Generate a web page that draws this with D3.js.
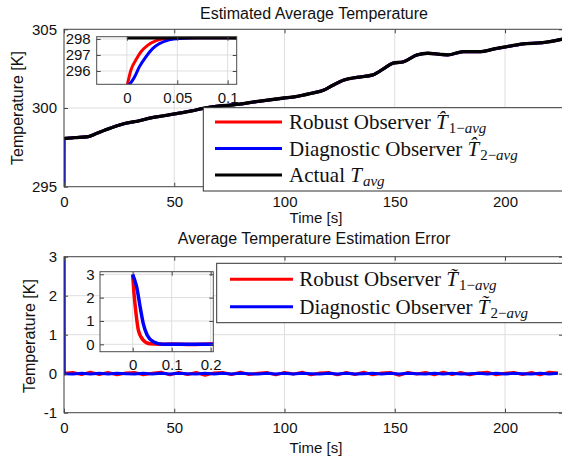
<!DOCTYPE html>
<html>
<head>
<meta charset="utf-8">
<script src="https://cdn.jsdelivr.net/npm/d3@7"></script>
<style>
  body { margin: 0; background: #fff; }
  svg { display: block; font-family: Arial, "Liberation Sans", sans-serif; }
</style>
</head>
<body>
<div id="chart"></div>
<script>
// ---- data ----
var timeTicks = [0, 50, 100, 150, 200];

// actual average temperature (black)
var actualTime = [0, 5, 11, 15, 21, 28, 34, 39, 45, 50, 58, 63, 70, 77, 87, 99, 105, 112, 118, 122, 127, 133, 140, 145, 149, 154, 160, 165, 170, 174, 181, 189, 195, 201, 208, 217, 226.3];
var actualTemp = [298.07, 298.12, 298.18, 298.4, 298.72, 299.03, 299.18, 299.36, 299.5, 299.62, 299.82, 299.97, 300.12, 300.2, 300.4, 300.62, 300.72, 300.93, 301.15, 301.45, 301.78, 301.95, 302.1, 302.5, 302.84, 302.94, 303.37, 303.48, 303.42, 303.37, 303.58, 303.58, 303.75, 303.9, 304.07, 304.15, 304.38];

// start-up of the estimates (inset of the first plot)
var robustStartTime = [0, 0.004, 0.009, 0.014, 0.0205, 0.029, 0.039, 0.06, 0.109];
var robustStartTemp = [295.0, 296.06, 296.7, 297.2, 297.6, 297.9, 298.03, 298.07, 298.07];
var diagStartTime = [0, 0.003, 0.0073, 0.0122, 0.019, 0.0255, 0.032, 0.042, 0.052, 0.07, 0.109];
var diagStartTemp = [295.0, 295.2, 295.6, 296.24, 296.9, 297.4, 297.7, 297.94, 298.03, 298.07, 298.07];

// estimation error start-up (inset of the second plot)
var robustErrTime = [0, 0.0033, 0.0085, 0.0145, 0.027, 0.044, 0.07, 0.1, 0.15, 0.2];
var robustErrVal = [2.97, 2.19, 1.33, 0.61, 0.18, 0.02, 0.0, 0.01, -0.01, 0.01];
var diagErrTime = [0, 0.005, 0.01, 0.019, 0.027, 0.037, 0.053, 0.077, 0.12, 0.2];
var diagErrVal = [3.0, 2.75, 2.47, 1.61, 0.9, 0.4, 0.11, 0.0, 0.0, 0.0];

// estimation error after start-up (small ripple around zero)
var noiseTime = [0.3, 4, 8, 12, 16, 20, 24, 28, 32, 36, 40, 44, 48, 52, 56, 60, 64, 68, 72, 76, 80, 84, 88, 92, 96, 100, 104, 108, 112, 116, 120, 124, 128, 132, 136, 140, 144, 148, 152, 156, 160, 164, 168, 172, 176, 180, 184, 188, 192, 196, 200, 204, 208, 212, 216, 220, 224];
var robustNoise = [0.01, 0.03, -0.02, 0.04, -0.02, 0.03, -0.03, 0.02, 0.03, -0.03,
                   0.01, 0.04, -0.03, 0.03, -0.02, 0.03, -0.04, 0.02, 0.03, -0.02,
                   0.04, -0.02, 0.01, 0.03, -0.03, 0.03, -0.01, 0.04, -0.03, 0.02,
                   0.03, -0.03, 0.03, -0.02, 0.04, -0.03, 0.02, 0.03, -0.04, 0.03,
                   -0.01, 0.03, -0.03, 0.04, -0.02, 0.03, -0.03, 0.02, 0.04, -0.03,
                   0.01, 0.03, -0.02, 0.03, -0.03, 0.04, 0.02];
var diagNoise = [0.00, -0.01, 0.01, -0.01, 0.01, -0.01, 0.01, 0.00, -0.01, 0.01,
                 -0.01, 0.01, -0.01, 0.01, 0.00, -0.01, 0.01, -0.01, 0.01, -0.01,
                 0.01, 0.00, -0.01, 0.01, -0.01, 0.01, -0.01, 0.01, 0.00, -0.01,
                 0.01, -0.01, 0.01, -0.01, 0.00, 0.01, -0.01, 0.01, -0.01, 0.01,
                 0.00, -0.01, 0.01, -0.01, 0.01, -0.01, 0.00, 0.01, -0.01, 0.01,
                 -0.01, 0.01, 0.00, -0.01, 0.01, -0.01, 0.01];

var tempTicks = [295, 300, 305];
var errTicks = [-1, 0, 1, 2, 3];
var inset1XTicks = [0, 0.05, 0.1];
var inset1YTicks = [296, 297, 298];
var inset2XTicks = [0, 0.1, 0.2];
var inset2YTicks = [0, 1, 2, 3];

var RED = "#ff0000", BLUE = "#0000ff", BLACK = "#000000";

function pts(xs, ys) {
    var n = Math.min(xs.length, ys.length), out = [];
    for (var i = 0; i < n; i++) out.push([xs[i], ys[i]]);
    return out;
}

var actual = pts(actualTime, actualTemp);
var robustEst = pts(robustStartTime, robustStartTemp).concat(actual.slice(1));
var diagEst = pts(diagStartTime, diagStartTemp).concat(actual.slice(1));
var robustErr = pts(robustErrTime, robustErrVal).concat(pts(noiseTime, robustNoise));
var diagErr = pts(diagErrTime, diagErrVal).concat(pts(noiseTime, diagNoise));

var svg = d3.select("#chart").append("svg")
    .attr("width", 562)
    .attr("height", 461);

var clipId = 0;

// axes box with grid, inward ticks on all sides, series lines
function panel(x, y, xTicks, yTicks, series, opt) {
    var x0 = x.range()[0], x1 = x.range()[1];
    var yb = y.range()[0], yt = y.range()[1];
    var g = svg.append("g");
    var id = "clip" + (clipId++);
    g.append("clipPath").attr("id", id)
        .append("rect").attr("x", x0).attr("y", yt).attr("width", x1 - x0).attr("height", yb - yt);

    if (opt.white) {
        g.append("rect").attr("x", x0).attr("y", yt).attr("width", x1 - x0).attr("height", yb - yt)
            .attr("fill", "#fff");
    }

    // grid
    g.append("g").selectAll("line").data(xTicks).join("line")
        .attr("x1", d => x(d)).attr("x2", d => x(d))
        .attr("y1", yt).attr("y2", yb)
        .attr("stroke", "#dedede").attr("stroke-width", 1);
    g.append("g").selectAll("line").data(yTicks).join("line")
        .attr("x1", x0).attr("x2", x1)
        .attr("y1", d => y(d)).attr("y2", d => y(d))
        .attr("stroke", "#dedede").attr("stroke-width", 1);

    // lines
    var lg = g.append("g").attr("clip-path", "url(#" + id + ")");
    series.forEach(function(s) {
        var line = d3.line().x(d => x(d[0])).y(d => y(d[1])).curve(opt.curve || d3.curveMonotoneX);
        lg.append("path")
            .attr("d", line(s.data))
            .attr("fill", "none")
            .attr("stroke", s.color)
            .attr("stroke-width", s.width)
            .attr("stroke-linejoin", "round");
    });

    // axes
    var fmt = d => String(d);
    var ax = [
        g.append("g").attr("transform", "translate(0," + yb + ")")
            .call(d3.axisBottom(x).tickValues(xTicks).tickFormat(fmt).tickSizeInner(-4).tickSizeOuter(0).tickPadding(opt.xPad)),
        g.append("g").attr("transform", "translate(0," + yt + ")")
            .call(d3.axisTop(x).tickValues(xTicks).tickFormat("").tickSizeInner(-4).tickSizeOuter(0)),
        g.append("g").attr("transform", "translate(" + x0 + ",0)")
            .call(d3.axisLeft(y).tickValues(yTicks).tickFormat(fmt).tickSizeInner(-4).tickSizeOuter(0).tickPadding(opt.yPad)),
        g.append("g").attr("transform", "translate(" + x1 + ",0)")
            .call(d3.axisRight(y).tickValues(yTicks).tickFormat("").tickSizeInner(-4).tickSizeOuter(0))
    ];
    ax.forEach(function(a) {
        a.select(".domain").remove();
        a.selectAll(".tick line").attr("stroke", "#444");
        a.selectAll("text").attr("font-size", "15px").attr("font-family", "Arial, 'Liberation Sans', sans-serif").attr("fill", "#111");
    });

    g.append("rect").attr("x", x0).attr("y", yt).attr("width", x1 - x0).attr("height", yb - yt)
        .attr("fill", "none").attr("stroke", "#4a4a4a").attr("stroke-width", 1);
    return g;
}

function title(txt, cx, cy) {
    svg.append("text").attr("x", cx).attr("y", cy).attr("text-anchor", "middle")
        .attr("font-size", "16px").attr("fill", "#111").text(txt);
}

function yLabel(txt, cx, cy) {
    svg.append("text").attr("transform", "translate(" + cx + "," + cy + ") rotate(-90)")
        .attr("text-anchor", "middle").attr("dy", "0.35em")
        .attr("font-size", "16px").attr("fill", "#111").text(txt);
}

// legend with LaTeX-like labels
function legend(box, items) {
    var g = svg.append("g");
    g.append("rect").attr("x", box.x).attr("y", box.y).attr("width", box.w).attr("height", box.h)
        .attr("fill", "#fff").attr("stroke", "#333").attr("stroke-width", 1);
    items.forEach(function(it, i) {
        var yy = box.rows[i];
        g.append("line").attr("x1", box.lx0).attr("x2", box.lx1).attr("y1", yy).attr("y2", yy)
            .attr("stroke", it.color).attr("stroke-width", 3);
        var t = g.append("text").attr("x", box.tx).attr("y", yy + 7)
            .attr("font-family", "'Liberation Serif', 'Times New Roman', serif")
            .attr("font-size", "21px").attr("fill", "#111");
        t.append("tspan").text(it.plain);
        t.append("tspan").attr("font-style", "italic").text(it.sym);
        if (it.subNum) t.append("tspan").attr("font-size", "15px").attr("dy", 4).attr("dx", 1).text(it.subNum);
        t.append("tspan").attr("font-size", "15px").attr("font-style", "italic")
            .attr("dy", it.subNum ? 0 : 4).attr("dx", it.subNum ? 0 : 1).text("avg");
    });
}

// ---- plot 1: estimated average temperature ----
var x1 = d3.scaleLinear().domain([0, 226.3]).range([64, 563]);
var y1 = d3.scaleLinear().domain([295, 305]).range([186.7, 29.3]);

title("Estimated Average Temperature", 314, 18.5);
panel(x1, y1, timeTicks, tempTicks, [
    { data: robustEst, color: RED, width: 3 },
    { data: diagEst, color: BLUE, width: 3 },
    { data: actual, color: BLACK, width: 3.3 }
], { xPad: 9.5, yPad: 7 });
svg.append("text").attr("x", 316).attr("y", 223).attr("text-anchor", "middle")
    .attr("font-size", "15px").attr("fill", "#111").text("Time [s]");
yLabel("Temperature [K]", 17, 108);

var xi1 = d3.scaleLinear().domain([-0.030, 0.109]).range([96.7, 236.7]);
var yi1 = d3.scaleLinear().domain([295.17, 298.14]).range([84.3, 36.7]);
panel(xi1, yi1, inset1XTicks, inset1YTicks, [
    { data: robustEst, color: RED, width: 3 },
    { data: diagEst, color: BLUE, width: 3 },
    { data: actual, color: BLACK, width: 3.5 }
], { white: true, xPad: 8, yPad: 6 });

legend({ x: 203.3, y: 107.7, w: 380, h: 83.3, lx0: 215, lx1: 282, tx: 289, rows: [122, 148.5, 175] }, [
    { color: RED, plain: "Robust Observer ", sym: "T\u0302", subNum: "1\u2212" },
    { color: BLUE, plain: "Diagnostic Observer ", sym: "T\u0302", subNum: "2\u2212" },
    { color: BLACK, plain: "Actual ", sym: "T", subNum: null }
]);

// ---- plot 2: estimation error ----
var y2 = d3.scaleLinear().domain([-1, 3]).range([412.7, 256.7]);

title("Average Temperature Estimation Error", 314, 244);
panel(x1, y2, timeTicks, errTicks, [
    { data: robustErr, color: RED, width: 3 },
    { data: diagErr, color: BLUE, width: 3 }
], { xPad: 9.5, yPad: 7, curve: d3.curveLinear });
svg.append("text").attr("x", 316).attr("y", 453).attr("text-anchor", "middle")
    .attr("font-size", "15px").attr("fill", "#111").text("Time [s]");
yLabel("Temperature [K]", 29, 336);

var xi2 = d3.scaleLinear().domain([-0.0838, 0.2067]).range([100, 213.3]);
var yi2 = d3.scaleLinear().domain([-0.317, 3.11]).range([351.7, 271.7]);
panel(xi2, yi2, inset2XTicks, inset2YTicks, [
    { data: robustErr, color: RED, width: 3.5 },
    { data: diagErr, color: BLUE, width: 3.5 }
], { white: true, xPad: 8, yPad: 5.5 });

legend({ x: 216.7, y: 263.3, w: 370, h: 59.4, lx0: 230, lx1: 293, tx: 299.3, rows: [279.3, 306.7] }, [
    { color: RED, plain: "Robust Observer ", sym: "T\u0303", subNum: "1\u2212" },
    { color: BLUE, plain: "Diagnostic Observer ", sym: "T\u0303", subNum: "2\u2212" }
]);
</script>
</body>
</html>
